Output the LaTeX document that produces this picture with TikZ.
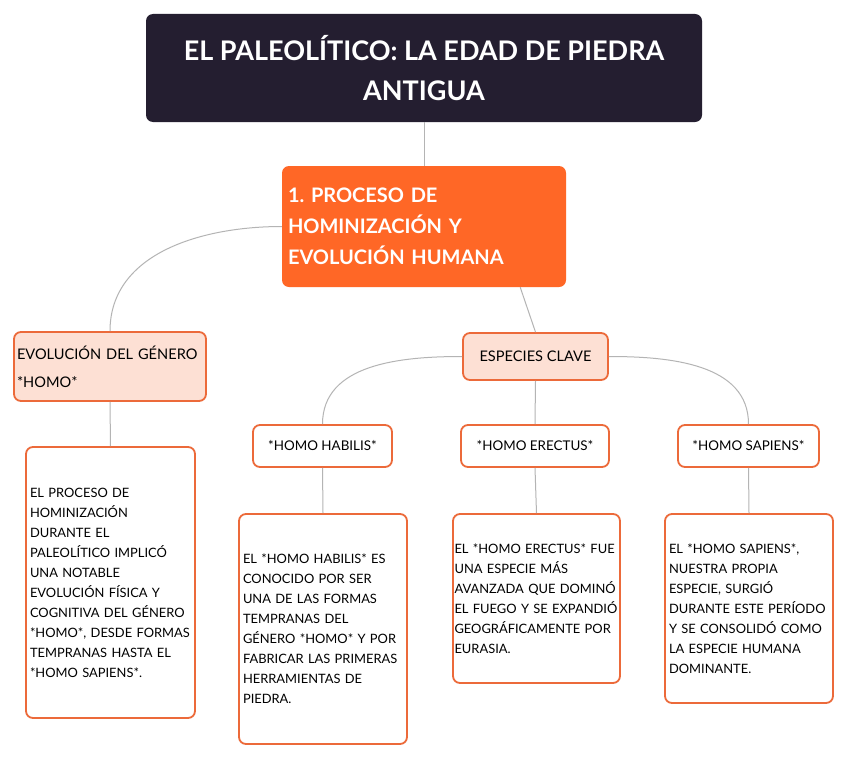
\documentclass[tikz,border=0pt]{standalone}
\usepackage{fontspec}
\setmainfont{Lato}
\frenchspacing
\hyphenpenalty=10000
\exhyphenpenalty=10000
\definecolor{titledark}{HTML}{241E30}
\definecolor{homorange}{HTML}{FF6726}
\definecolor{boxorange}{HTML}{EC6A3A}
\definecolor{peach}{HTML}{FDE0D4}
\definecolor{linkgray}{HTML}{B4B4B4}
\tikzset{
  titlebox/.style={fill=titledark,rounded corners=7pt,text=white,align=center,inner sep=0pt,
    font=\bfseries\fontsize{27}{40}\selectfont},
  homobox/.style={fill=homorange,rounded corners=7pt,text=white,align=left,inner xsep=6pt,
    font=\bfseries\fontsize{20}{31}\selectfont},
  groupbox/.style={draw=boxorange,line width=1.8pt,fill=peach,rounded corners=7pt,inner xsep=3pt},
  speciesbox/.style={draw=boxorange,line width=1.8pt,fill=white,rounded corners=7pt,
    font=\fontsize{13.4}{16}\selectfont},
  descbox/.style={draw=boxorange,line width=1.8pt,fill=white,rounded corners=7pt,align=left,
    inner xsep=4pt,font=\fontsize{12.9}{20}\selectfont},
  link/.style={draw=linkgray,line width=1pt}
}
\begin{document}
\begin{tikzpicture}[x=1pt,y=-1pt]
  \useasboundingbox [fill=white] (0,0) rectangle (848,760);
  % main title and first section
  \node [titlebox,minimum width=556,minimum height=108] (title) at (424,68)
    {EL PALEOLÍTICO: LA EDAD DE PIEDRA\\ANTIGUA};
  \node [homobox,text width=272,minimum height=121] (proc) at (424,226.5)
    {1. PROCESO DE\\HOMINIZACIÓN Y\\EVOLUCIÓN HUMANA};
  % second level
  \node [groupbox,align=left,text width=186,minimum height=69,font=\fontsize{14.6}{28}\selectfont] (genero) at (110,366.5)
    {EVOLUCIÓN DEL GÉNERO\\{}*HOMO*};
  \node [groupbox,minimum width=145,minimum height=47,font=\fontsize{14.6}{17}\selectfont] (clave) at (535.5,356.5)
    {ESPECIES CLAVE};
  % species
  \node [speciesbox,minimum width=139,minimum height=42] (habilis) at (322.5,446) {*HOMO HABILIS*};
  \node [speciesbox,minimum width=148,minimum height=42] (erectus) at (535,446) {*HOMO ERECTUS*};
  \node [speciesbox,minimum width=141,minimum height=42] (sapiens) at (748.5,446) {*HOMO SAPIENS*};
  % descriptions
  \node [descbox,text width=161,minimum height=271] (dgenero) at (110.5,582.5)
    {EL PROCESO DE\\HOMINIZACIÓN\\DURANTE EL\\PALEOLÍTICO IMPLICÓ\\UNA NOTABLE\\EVOLUCIÓN FÍSICA Y\\COGNITIVA DEL GÉNERO\\{}*HOMO*, DESDE FORMAS\\TEMPRANAS HASTA EL\\{}*HOMO SAPIENS*.};
  \node [descbox,text width=160,minimum height=230] (dhabilis) at (323,629)
    {EL *HOMO HABILIS* ES\\CONOCIDO POR SER\\UNA DE LAS FORMAS\\TEMPRANAS DEL\\GÉNERO *HOMO* Y POR\\FABRICAR LAS PRIMERAS\\HERRAMIENTAS DE\\PIEDRA.};
  \node [descbox,inner xsep=1.5pt,text width=164,minimum height=169] (derectus) at (536.5,598.5)
    {EL *HOMO ERECTUS* FUE\\UNA ESPECIE MÁS\\AVANZADA QUE DOMINÓ\\EL FUEGO Y SE EXPANDIÓ\\GEOGRÁFICAMENTE POR\\EURASIA.};
  \node [descbox,text width=160,minimum height=189] (dsapiens) at (749,608.5)
    {EL *HOMO SAPIENS*,\\NUESTRA PROPIA\\ESPECIE, SURGIÓ\\DURANTE ESTE PERÍODO\\Y SE CONSOLIDÓ COMO\\LA ESPECIE HUMANA\\DOMINANTE.};
  % connectors
  \draw [link] (title.south) -- (proc.north);
  \draw [link] (proc.west) to[out=180,in=90] (genero.north);
  \draw [link] ([xshift=-46pt]proc.south east) -- (clave.north);
  \draw [link] (genero.south) -- (dgenero.north);
  \draw [link] (clave.west) to[out=180,in=90] (habilis.north);
  \draw [link] (clave.south) -- (erectus.north);
  \draw [link] (clave.east) to[out=0,in=90] (sapiens.north);
  \foreach \s/\d in {habilis/dhabilis,erectus/derectus,sapiens/dsapiens}
    \draw [link] (\s.south) -- (\d.north);
\end{tikzpicture}
\end{document}
